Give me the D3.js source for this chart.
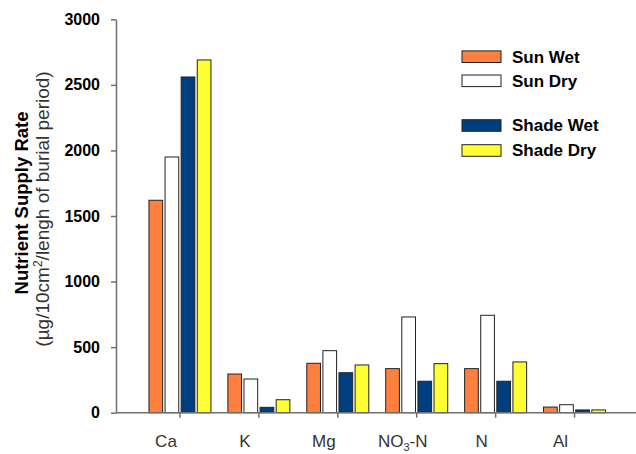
<!DOCTYPE html>
<html>
<head>
<meta charset="utf-8">
<script src="https://cdn.jsdelivr.net/npm/d3@7"></script>
<style>
  body { margin: 0; background: #fff; }
  svg { display: block; font-family: Arial, "Liberation Sans", sans-serif; }
</style>
</head>
<body>
<svg width="636" height="454"></svg>
<script>
// nutrient names on the x axis
let nutrients = ["Ca", "K", "Mg", "NO3-N", "N", "Al"];
let seriesNames = ["Sun Wet", "Sun Dry", "Shade Wet", "Shade Dry"];
let seriesColors = ["#ff7f3f", "#ffffff", "#003f7f", "#ffff33"];

// values, one array per series
let sunWet   = [1620, 295, 377, 336, 336, 43];
let sunDry   = [1950, 257, 473, 730, 743, 61];
let shadeWet = [2560,  41, 305, 240, 240, 21];
let shadeDry = [2690,  99, 364, 374, 387, 21];
let yTicks = [0, 500, 1000, 1500, 2000, 2500, 3000];

let series = [sunWet, sunDry, shadeWet, shadeDry];

let svg = d3.select("svg");
let axisColor = "#707070";

let yScale = d3.scaleLinear().domain([0, 3000]).range([412.7, 19.3]);
let xScale = d3.scaleBand().domain(nutrients).range([140.5, 614]);
let x1 = d3.scaleBand().domain(seriesNames).range([-31, 31]).paddingInner(0.15);

// bars
let groups = svg.append("g").selectAll("g")
  .data(nutrients)
  .enter().append("g")
  .attr("transform", d => "translate(" + (xScale(d) + xScale.bandwidth() / 2) + ",0)");

groups.selectAll("rect")
  .data((d, i) => series.map((s, j) => ({name: seriesNames[j], color: seriesColors[j], v: s[i]})))
  .enter().append("rect")
  .attr("x", d => x1(d.name))
  .attr("width", x1.bandwidth())
  .attr("y", d => yScale(d.v))
  .attr("height", d => yScale(0) - yScale(d.v))
  .attr("fill", d => d.color)
  .attr("stroke", "#222")
  .attr("stroke-width", 1);

// y axis
let gy = svg.append("g")
  .attr("transform", "translate(116,0)")
  .call(d3.axisLeft(yScale).tickValues(yTicks).tickSize(5).tickSizeOuter(0).tickPadding(11).tickFormat(d3.format("d")));
gy.select(".domain").attr("stroke", axisColor).attr("stroke-width", 1.5);
gy.selectAll(".tick line").attr("stroke", axisColor).attr("stroke-width", 1.5);
gy.selectAll(".tick text")
  .attr("font-size", 16).attr("font-weight", "bold").attr("fill", "#000")
  .attr("font-family", "Arial, 'Liberation Sans', sans-serif");

// x axis
let gx = svg.append("g")
  .attr("transform", "translate(0," + yScale(0) + ")")
  .call(d3.axisBottom(xScale).tickSize(5).tickPadding(17));
gx.select(".domain").remove();
gx.append("line")
  .attr("x1", 116).attr("x2", 636)
  .attr("stroke", axisColor).attr("stroke-width", 1.5);
gx.selectAll(".tick line").attr("stroke", axisColor).attr("stroke-width", 1.5);
gx.selectAll(".tick text")
  .attr("font-size", 17).attr("fill", "#333").attr("dx", -14)
  .attr("font-family", "Arial, 'Liberation Sans', sans-serif")
  .each(function(d) {
    if (d === "NO3-N") {
      let t = d3.select(this).text("");
      t.append("tspan").text("NO");
      t.append("tspan").text("3").attr("font-size", 11).attr("dy", 4);
      t.append("tspan").text("-N").attr("dy", -4);
    }
  });

// y axis titles
svg.append("text")
  .attr("transform", "translate(28,203) rotate(-90)")
  .attr("text-anchor", "middle")
  .attr("font-size", 18.5).attr("font-weight", "bold")
  .text("Nutrient Supply Rate");

let sub = svg.append("text")
  .attr("transform", "translate(49,209) rotate(-90)")
  .attr("text-anchor", "middle")
  .attr("font-size", 19).attr("fill", "#333");
sub.append("tspan").text("(µg/10cm");
sub.append("tspan").text("2").attr("font-size", 12).attr("dy", -7);
sub.append("tspan").text("/lengh of burial period)").attr("dy", 7);

// legend
let legendY = [56.7, 80.8, 125.5, 150.5];
let legend = svg.append("g").selectAll("g")
  .data(seriesNames)
  .enter().append("g")
  .attr("transform", (d, i) => "translate(462," + legendY[i] + ")");
legend.append("rect")
  .attr("x", 0).attr("y", -5.8).attr("width", 39).attr("height", 11.6)
  .attr("fill", (d, i) => seriesColors[i])
  .attr("stroke", "#222").attr("stroke-width", 1);
legend.append("text")
  .attr("x", 50).attr("dy", "0.35em")
  .attr("font-size", 17).attr("font-weight", "bold")
  .text(d => d);
</script>
</body>
</html>
